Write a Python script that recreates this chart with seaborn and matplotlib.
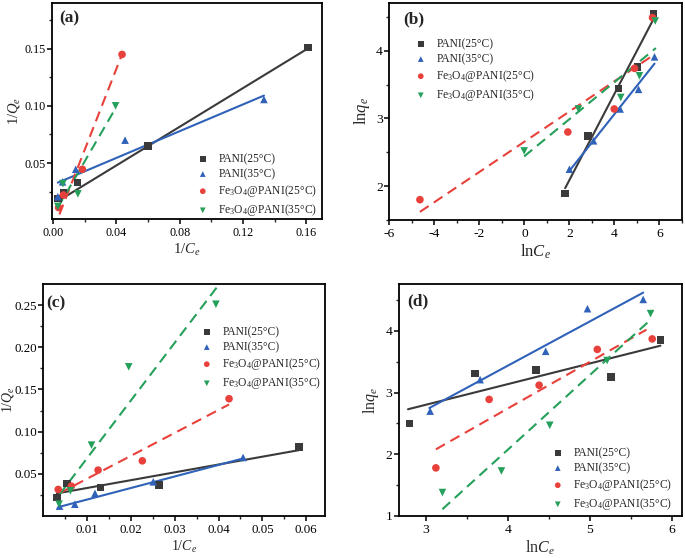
import numpy as np
import pandas as pd
import matplotlib
matplotlib.use('Agg')
import matplotlib.pyplot as plt
import seaborn as sns
from matplotlib.ticker import MultipleLocator, FixedLocator, FuncFormatter

# series order: PANI 25, PANI 35, Fe3O4@PANI 25, Fe3O4@PANI 35
LABELS = ['PANI(25°C)', 'PANI(35°C)',
          'Fe$_3$O$_4$@PANI(25°C)', 'Fe$_3$O$_4$@PANI(35°C)']
COLORS = ['#3a3a3a', '#2f62b8', '#e8413b', '#25a05a']
MARKERS = ['s', '^', 'o', 'v']
STYLES = ['-', '-', (0, (5, 3)), (0, (5, 3))]

# (a) Langmuir, 1/Ce vs 1/Qe
A_X = [[0.003, 0.0065, 0.0155, 0.060, 0.161],
       [0.003, 0.0060, 0.0143, 0.0455, 0.1333],
       [0.0035, 0.0065, 0.0185, 0.0436],
       [0.003, 0.0062, 0.0157, 0.0395]]
A_Y = [[0.019, 0.024, 0.0328, 0.065, 0.151],
       [0.0205, 0.0335, 0.0445, 0.070, 0.1056],
       [0.011, 0.022, 0.0445, 0.145],
       [0.012, 0.032, 0.023, 0.100]]
A_FIT_X = [[0.0035, 0.162], [0.003, 0.1333], [0.004, 0.043], [0.0028, 0.0394]]
A_FIT_Y = [[0.017, 0.151], [0.0328, 0.109], [0.005, 0.143], [0.0105, 0.0977]]

# (b) Freundlich, lnCe vs lnqe
B_X = [[1.81, 2.82, 4.18, 5.02, 5.73],
       [2.00, 3.07, 4.25, 5.07, 5.78],
       [-4.64, 1.93, 3.99, 4.89, 5.69],
       [-0.01, 2.40, 4.28, 5.11, 5.81]]
B_Y = [[1.89, 2.74, 3.44, 3.76, 4.55],
       [2.25, 2.67, 3.14, 3.43, 3.91],
       [1.80, 2.80, 3.14, 3.74, 4.49],
       [2.52, 3.14, 3.31, 3.63, 4.44]]
B_FIT_X = [[1.81, 5.69], [1.96, 5.78], [-4.64, 5.66], [-0.01, 5.84]]
B_FIT_Y = [[1.97, 4.44], [2.21, 3.81], [1.62, 3.92], [2.44, 4.04]]

# (c) Langmuir, 1/Ce vs 1/Qe
C_X = [[0.0031, 0.0054, 0.0131, 0.0264, 0.0583],
       [0.0037, 0.0072, 0.0118, 0.0251, 0.0456],
       [0.0034, 0.0064, 0.0125, 0.0226, 0.0424],
       [0.0036, 0.0062, 0.0110, 0.0195, 0.0394]]
C_Y = [[0.022, 0.0386, 0.0339, 0.0366, 0.082],
       [0.0117, 0.014, 0.0268, 0.0405, 0.0694],
       [0.0315, 0.0354, 0.0544, 0.0654, 0.139],
       [0.014, 0.0299, 0.084, 0.1768, 0.251]]
C_FIT_X = [[0.0031, 0.0583], [0.0037, 0.0456], [0.0036, 0.0424], [0.0036, 0.0396]]
C_FIT_Y = [[0.0268, 0.078], [0.0109, 0.0682], [0.0268, 0.1322], [0.0248, 0.271]]

# (d) Freundlich, lnCe vs lnqe
D_X = [[2.80, 3.60, 4.34, 5.26, 5.86],
       [3.05, 3.66, 4.46, 4.97, 5.65],
       [3.12, 3.77, 4.38, 5.09, 5.76],
       [3.20, 3.92, 4.51, 5.21, 5.74]]
D_Y = [[2.50, 3.31, 3.37, 3.25, 3.85],
       [2.70, 3.21, 3.67, 4.36, 4.51],
       [1.78, 2.89, 3.12, 3.70, 3.87],
       [1.38, 1.73, 2.47, 3.52, 4.28]]
D_FIT_X = [[2.78, 5.86], [3.04, 5.65], [3.12, 5.69], [3.20, 5.74]]
D_FIT_Y = [[2.73, 3.76], [2.75, 4.62], [2.08, 4.02], [1.11, 4.18]]


sns.set_style('ticks')
plt.rcParams['font.family'] = ['Liberation Serif', 'DejaVu Serif']
plt.rcParams['mathtext.fontset'] = 'custom'
plt.rcParams['mathtext.rm'] = 'Liberation Serif'
plt.rcParams['mathtext.it'] = 'Liberation Serif:italic'
plt.rcParams['axes.linewidth'] = 1.3
plt.rcParams['axes.unicode_minus'] = False
plt.rcParams['xtick.direction'] = 'out'
plt.rcParams['ytick.direction'] = 'out'

W, H = 685, 558
two_dec = FuncFormatter(lambda v, p: f'{v:.2f}')


def draw_panel(ax, xs, ys, fit_x, fit_y):
    for i in range(4):
        fit = pd.DataFrame({'x': fit_x[i], 'y': fit_y[i]})
        sns.lineplot(data=fit, x='x', y='y', ax=ax, color=COLORS[i],
                     linestyle=STYLES[i], linewidth=1.5, sort=False,
                     legend=False)
    for i in range(4):
        pts = pd.DataFrame({'x': xs[i], 'y': ys[i]})
        sns.scatterplot(data=pts, x='x', y='y', ax=ax, color=COLORS[i],
                        marker=MARKERS[i], s=30, edgecolor='none',
                        label=LABELS[i], zorder=3)


def style_axes(ax, tag, tag_px, xlabel, ylabel, tick_fs, label_fs, ypad=3):
    for side in ['top', 'right', 'bottom', 'left']:
        ax.spines[side].set_visible(True)
        ax.spines[side].set_color('black')
    ax.tick_params(which='major', length=3.5, width=1.1, labelsize=tick_fs,
                   colors='black', top=False, right=False)
    ax.tick_params(axis='x', which='major', pad=2)
    ax.tick_params(axis='y', which='major', pad=1.2)
    ax.tick_params(which='minor', length=2, width=1.0,
                   top=False, right=False)
    ax.set_xlabel(xlabel, fontsize=label_fs, labelpad=2)
    ax.set_ylabel(ylabel, fontsize=label_fs, labelpad=ypad)
    ax.annotate(tag, xy=(0, 1), xycoords='axes fraction',
                xytext=(tag_px[0] * 0.72, -tag_px[1] * 0.72),
                textcoords='offset points', fontsize=12.5,
                fontweight='bold', va='top', ha='left')


def place_legend(ax, left_px, top_px):
    ax.legend(loc='upper left', bbox_to_anchor=(left_px / W, 1 - top_px / H),
              bbox_transform=fig.transFigure, frameon=False, fontsize=8.3,
              handletextpad=0.85, labelspacing=0.27, borderaxespad=0,
              borderpad=0, handlelength=1.0, markerscale=0.75)


fig = plt.figure(figsize=(W / 100, H / 100), dpi=100)

# (a)
ax = fig.add_axes([52.3 / W, 1 - 219 / H, (322 - 52.3) / W, (219 - 3) / H])
draw_panel(ax, A_X, A_Y, A_FIT_X, A_FIT_Y)
ax.set_xlim(-0.0005, 0.17)
ax.set_ylim(0.001, 0.19)
ax.xaxis.set_major_locator(FixedLocator([0.0, 0.04, 0.08, 0.12, 0.16]))
ax.xaxis.set_major_formatter(two_dec)
ax.xaxis.set_minor_locator(MultipleLocator(0.02))
ax.yaxis.set_major_locator(FixedLocator([0.05, 0.10, 0.15]))
ax.yaxis.set_major_formatter(two_dec)
ax.yaxis.set_minor_locator(MultipleLocator(0.025))
style_axes(ax, '(a)', (7, 7), r'1/$C_e$', r'1/$Q_e$', 8.7, 10.5, ypad=2)
place_legend(ax, 197, 153)

# (b)
ax = fig.add_axes([389.3 / W, 1 - 220 / H, (682 - 389.3) / W, (220 - 2.7) / H])
draw_panel(ax, B_X, B_Y, B_FIT_X, B_FIT_Y)
ax.set_xlim(-6, 7)
ax.set_ylim(1.5, 4.71)
ax.xaxis.set_major_locator(FixedLocator([-6, -4, -2, 0, 2, 4, 6]))
ax.xaxis.set_minor_locator(MultipleLocator(1))
ax.yaxis.set_major_locator(FixedLocator([2, 3, 4]))
ax.yaxis.set_minor_locator(MultipleLocator(0.5))
style_axes(ax, '(b)', (14, 9), r'ln$C_e$', r'ln$q_e$', 9.7, 12)
place_legend(ax, 415, 38)

# (c)
ax = fig.add_axes([43.3 / W, 1 - 516 / H, (325 - 43.3) / W, (516 - 284) / H])
draw_panel(ax, C_X, C_Y, C_FIT_X, C_FIT_Y)
ax.set_xlim(0.0, 0.0643)
ax.set_ylim(0.0, 0.275)
ax.xaxis.set_major_locator(FixedLocator([0.01, 0.02, 0.03, 0.04, 0.05, 0.06]))
ax.xaxis.set_major_formatter(two_dec)
ax.xaxis.set_minor_locator(FixedLocator([0.005, 0.015, 0.025, 0.035,
                                         0.045, 0.055]))
ax.yaxis.set_major_locator(FixedLocator([0.05, 0.10, 0.15, 0.20, 0.25]))
ax.yaxis.set_major_formatter(two_dec)
ax.yaxis.set_minor_locator(FixedLocator([0.025, 0.075, 0.125, 0.175, 0.225]))
style_axes(ax, '(c)', (3, 11), r'1/$C_e$', r'1/$Q_e$', 9.3, 10)
ax.yaxis.set_label_coords(-0.097, 0.5)
place_legend(ax, 201, 326)

# (d)
ax = fig.add_axes([399 / W, 1 - 516 / H, (681.7 - 399) / W, (516 - 284) / H])
draw_panel(ax, D_X, D_Y, D_FIT_X, D_FIT_Y)
ax.set_xlim(2.67, 6.12)
ax.set_ylim(1.0, 4.76)
ax.xaxis.set_major_locator(FixedLocator([3, 4, 5, 6]))
ax.xaxis.set_minor_locator(MultipleLocator(0.5))
ax.yaxis.set_major_locator(FixedLocator([1, 2, 3, 4]))
ax.yaxis.set_minor_locator(MultipleLocator(0.5))
style_axes(ax, '(d)', (8, 9), r'ln$C_e$', r'ln$q_e$', 9.7, 11.5)
place_legend(ax, 552, 447)

fig.savefig('out.png', dpi=100)
plt.close(fig)
